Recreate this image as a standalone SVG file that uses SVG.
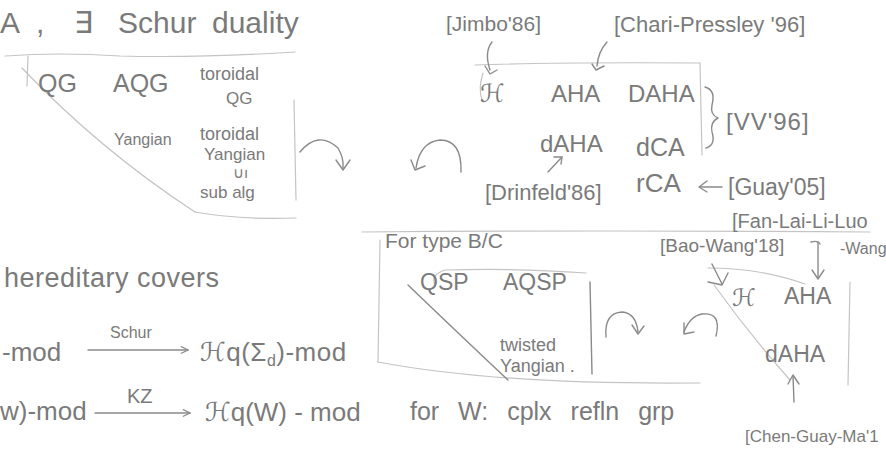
<svg xmlns="http://www.w3.org/2000/svg" width="886" height="451" viewBox="0 0 886 451">
<defs>
<style>
.t{font-family:"Liberation Sans","DejaVu Sans",sans-serif;fill:#7a7a7a;}
.s{fill:none;stroke:#8a8a8a;stroke-width:1.4;stroke-linecap:round;stroke-linejoin:round;}
.f{fill:none;stroke:#c4c4c4;stroke-width:1.2;stroke-linecap:round;}
</style>
<marker id="ah" viewBox="0 0 10 10" refX="9" refY="5" markerWidth="9" markerHeight="9" orient="auto-start-reverse" markerUnits="userSpaceOnUse">
<path d="M1,1 L9,5 L1,9" fill="none" stroke="#8a8a8a" stroke-width="1.3"/>
</marker>
</defs>
<rect width="886" height="451" fill="#ffffff"/>

<g id="connectors">
<path class="f" d="M5,56 Q60,52 120,56 Q200,58 295,52"/>
<path class="f" d="M28,56 L27,86"/>
<path class="f" d="M22,68 Q100,150 195,212"/>
<path class="f" d="M195,212 Q240,220 296,218"/>
<path class="f" d="M294,100 L296,200"/>
<path class="s" d="M300,152 Q318,130 338,148 Q344,158 343,168" />
<path class="s" d="M336,160 L343,170 L350,160"/>
<path class="s" d="M461,172 Q462,140 440,140 Q420,142 416,168"/>
<path class="s" d="M411,160 L415,170 L425,166"/>
<path class="f" d="M475,65 Q560,62 700,63"/>
<path class="f" d="M700,63 L702,155"/>
<path class="f" d="M483,73 Q478,88 482,100"/>
<path class="s" d="M492,42 Q484,52 490,70"/>
<path class="s" d="M485,66 L490,74 L497,70"/>
<path class="s" d="M607,42 Q598,52 597,66"/>
<path class="s" d="M592,64 L596,70 L604,66"/>
<path class="s" d="M705,87 Q716,90 712,105 Q710,115 718,118 Q710,122 712,132 Q716,145 706,148"/>
<path class="s" d="M548,172 L562,157"/>
<path class="s" d="M554,157 L562,157 L561,164"/>
<path class="s" d="M722,187 L700,187"/>
<path class="s" d="M707,181 L699,187 L707,192"/>
<path class="f" d="M362,232 Q600,230 870,232"/>
<path class="f" d="M380,240 L378,362"/>
<path class="f" d="M378,362 Q500,385 700,383"/>
<path class="f" d="M435,285 Q430,275 445,270 Q520,268 586,273"/>
<path class="s" d="M590,282 L592,374"/>
<path class="s" d="M408,285 Q460,335 508,380"/>
<path class="s" d="M606,337 Q604,313 622,312 Q636,313 638,332"/>
<path class="s" d="M632,325 L638,334 L644,326"/>
<path class="s" d="M716,336 Q722,312 702,314 Q690,316 684,332"/>
<path class="s" d="M684,323 L684,334 L694,332"/>
<path class="f" d="M708,268 Q760,268 805,284"/>
<path class="f" d="M714,285 Q750,335 790,380"/>
<path class="f" d="M850,282 L848,385"/>
<path class="s" d="M818,242 L818,278"/>
<path class="s" d="M812,270 L818,279 L824,270"/>
<path class="s" d="M811,242 Q818,240 820,244"/>
<path class="s" d="M712,264 L722,284"/>
<path class="s" d="M708,282 L722,285 L728,273"/>
<path class="s" d="M794,402 L793,376"/>
<path class="s" d="M788,384 L793,375 L799,384"/>
<path class="s" d="M88,350 L188,350" marker-end="url(#ah)"/>
<path class="s" d="M95,413 L190,413" marker-end="url(#ah)"/>
</g>

<g id="title"><text class="t" y="33" font-size="30"><tspan x="0">A</tspan><tspan x="36">,</tspan><tspan x="74">∃</tspan><tspan x="118">Schur</tspan><tspan x="212">duality</tspan></text></g>
<g id="qg"><text class="t" x="38" y="92" font-size="25">QG</text></g>
<g id="aqg"><text class="t" x="113" y="92" font-size="25">AQG</text></g>
<g id="toroidal-qg"><text class="t" x="200" y="80" font-size="18">toroidal</text><text class="t" x="226" y="104" font-size="17">QG</text></g>
<g id="yangian"><text class="t" x="114" y="145" font-size="16">Yangian</text></g>
<g id="toroidal-yangian"><text class="t" x="200" y="140" font-size="18">toroidal</text><text class="t" x="204" y="160" font-size="17">Yangian</text><text class="t" x="233" y="178" font-size="15">∪ı</text><text class="t" x="200" y="198" font-size="17">sub alg</text></g>

<g id="hereditary"><text class="t" x="4" y="287" font-size="27" letter-spacing="0.5">hereditary  covers</text></g>
<g id="row1"><text class="t" x="2" y="361" font-size="26">-mod</text><text class="t" x="110" y="338" font-size="16">Schur</text><text class="t" x="200" y="361" font-size="26" letter-spacing="0.5">ℋq(Σ<tspan font-size="16" dy="5">d</tspan><tspan dy="-5">)-mod</tspan></text></g>
<g id="row2"><text class="t" x="0" y="420" font-size="26">w)-mod</text><text class="t" x="127" y="403" font-size="20">KZ</text><text class="t" x="205" y="421" font-size="26">ℋq(W) - mod</text></g>

<g id="jimbo"><text class="t" x="446" y="31" font-size="21">[Jimbo'86]</text></g>
<g id="chari"><text class="t" x="614" y="32" font-size="22">[Chari-Pressley '96]</text></g>
<g id="h1"><text class="t" x="480" y="102" font-size="25">ℋ</text></g>
<g id="aha1"><text class="t" x="551" y="102" font-size="24">AHA</text></g>
<g id="daha1"><text class="t" x="628" y="102" font-size="24">DAHA</text></g>
<g id="vv"><text class="t" x="726" y="130" font-size="24" letter-spacing="1">[VV'96]</text></g>
<g id="dAHA1"><text class="t" x="540" y="152" font-size="24">dAHA</text></g>
<g id="dca"><text class="t" x="636" y="156" font-size="25">dCA</text></g>
<g id="drinfeld"><text class="t" x="485" y="200" font-size="22">[Drinfeld'86]</text></g>
<g id="rca"><text class="t" x="636" y="192" font-size="26">rCA</text></g>
<g id="guay"><text class="t" x="728" y="195" font-size="23">[Guay'05]</text></g>
<g id="fan"><text class="t" x="732" y="228" font-size="20">[Fan-Lai-Li-Luo</text><text class="t" x="840" y="254" font-size="16">-Wang</text></g>
<g id="bao"><text class="t" x="660" y="252" font-size="19">[Bao-Wang'18]</text></g>

<g id="typebc"><text class="t" x="385" y="248" font-size="21">For type B/C</text></g>
<g id="qsp"><text class="t" x="420" y="290" font-size="23">QSP</text></g>
<g id="aqsp"><text class="t" x="503" y="290" font-size="23">AQSP</text></g>
<g id="twisted"><text class="t" x="500" y="351" font-size="18">twisted</text><text class="t" x="500" y="372" font-size="18">Yangian .</text></g>

<g id="h2"><text class="t" x="732" y="306" font-size="24">ℋ</text></g>
<g id="aha2"><text class="t" x="784" y="304" font-size="23">AHA</text></g>
<g id="dAHA2"><text class="t" x="765" y="362" font-size="23">dAHA</text></g>
<g id="chen"><text class="t" x="745" y="442" font-size="17">[Chen-Guay-Ma'1</text></g>
<g id="cplx"><text class="t" x="410" y="420" font-size="25" word-spacing="12">for W: cplx refln grp</text></g>
</svg>
